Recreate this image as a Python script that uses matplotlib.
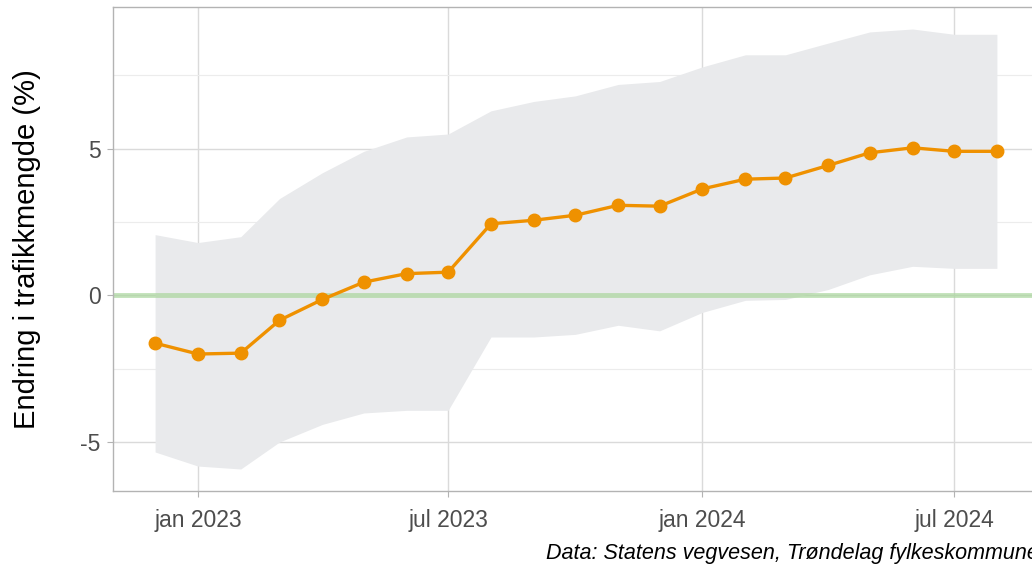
import matplotlib.pyplot as plt
from matplotlib.ticker import MultipleLocator
import datetime as dt

plt.rcParams['font.family'] = ['Liberation Sans', 'DejaVu Sans']
plt.rcParams['axes.unicode_minus'] = False

# monthly index values, Dec 2022 - Aug 2024
months = ['2022-12', '2023-01', '2023-02', '2023-03', '2023-04', '2023-05', '2023-06',
          '2023-07', '2023-08', '2023-09', '2023-10', '2023-11', '2023-12', '2024-01',
          '2024-02', '2024-03', '2024-04', '2024-05', '2024-06', '2024-07', '2024-08']
change = [-1.63, -2.0, -1.97, -0.85, -0.14, 0.45, 0.74, 0.79, 2.44, 2.56, 2.73,
          3.07, 3.04, 3.63, 3.96, 4.0, 4.43, 4.86, 5.03, 4.91, 4.91]
upper = [2.07, 1.80, 2.0, 3.3, 4.18, 4.91, 5.4, 5.5, 6.29, 6.61, 6.8,
         7.19, 7.29, 7.79, 8.2, 8.2, 8.6, 8.98, 9.08, 8.9, 8.9]
lower = [-5.34, -5.82, -5.92, -5.0, -4.4, -4.01, -3.92, -3.92, -1.42, -1.42, -1.33,
         -1.02, -1.21, -0.58, -0.17, -0.14, 0.2, 0.7, 0.99, 0.92, 0.92]

xtick_dates = ['2023-01', '2023-07', '2024-01', '2024-07']
xtick_labels = ['jan 2023', 'jul 2023', 'jan 2024', 'jul 2024']

ylabel = 'Endring i trafikkmengde (%)'
caption = 'Data: Statens vegvesen, Trøndelag fylkeskommune'

def to_date(s):
    y, m = s.split('-')
    return dt.date(int(y), int(m), 1)

x = [to_date(m) for m in months]

fig = plt.figure(figsize=(10.32, 5.67), dpi=100)
# panel runs slightly past the right edge, as in the original crop
ax = fig.add_axes([113 / 1032, 1 - 491 / 567, (1039 - 113) / 1032, (491 - 7) / 567])

ax.fill_between(x, lower, upper, color='#e9eaec', lw=0, zorder=1)
ax.axhline(0, color='#a9d69c', lw=3.5, alpha=0.7, zorder=2)
ax.plot(x, change, color='#ef9100', lw=2.4, marker='o', ms=9, zorder=3)

ax.margins(x=0.05, y=0.05)

ax.yaxis.set_major_locator(MultipleLocator(5))
ax.yaxis.set_minor_locator(MultipleLocator(2.5))
ax.set_xticks([to_date(d) for d in xtick_dates])
ax.set_xticklabels(xtick_labels)

ax.grid(which='major', color='#dadada', lw=1.0, zorder=0)
ax.grid(which='minor', axis='y', color='#ececec', lw=0.8, zorder=0)
ax.set_axisbelow(True)

for side in ['left', 'top', 'bottom', 'right']:
    ax.spines[side].set_color('#b3b3b3')
    ax.spines[side].set_linewidth(1.0)

ax.tick_params(which='major', length=4, color='#b3b3b3', labelsize=16.5,
               labelcolor='#4d4d4d')
ax.tick_params(axis='x', pad=9)
ax.tick_params(axis='y', pad=5)
ax.tick_params(which='minor', length=0)

ax.set_ylabel(ylabel, fontsize=21, color='black', labelpad=28)

fig.text(1039 / 1032, 1 - 553 / 567, caption, fontsize=15.5, style='italic',
         ha='right', va='center', color='black')

fig.savefig('out.png', dpi=100)
